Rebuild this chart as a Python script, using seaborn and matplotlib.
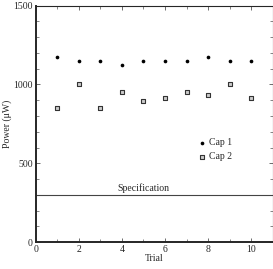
import matplotlib
matplotlib.use("Agg")
import matplotlib.pyplot as plt
import matplotlib.ticker as mticker
import pandas as pd
import seaborn as sns

# Data
trials = [1, 2, 3, 4, 5, 6, 7, 8, 9, 10]
cap1 = [1175, 1150, 1150, 1125, 1150, 1150, 1150, 1175, 1150, 1150]
cap2 = [850, 1000, 850, 955, 895, 915, 955, 935, 1000, 915]
spec_level = 300

sns.set_style("ticks")
plt.rcParams['font.family'] = ['Liberation Serif', 'DejaVu Serif']
plt.rcParams['mathtext.fontset'] = 'stix'

df = pd.DataFrame({"Trial": trials, "Cap 1": cap1, "Cap 2": cap2})

fig = plt.figure(figsize=(2.73, 2.69), dpi=100)
ax = fig.add_axes([0.131, 0.100, 0.868, 0.879])

sns.scatterplot(data=df, x="Trial", y="Cap 1", ax=ax, color="black",
                marker="o", s=7, linewidth=0, label="Cap 1")
sns.scatterplot(data=df, x="Trial", y="Cap 2", ax=ax, color="#cccccc",
                marker="s", s=8, edgecolor="#333333", linewidth=0.8,
                label="Cap 2")

# Specification line
ax.axhline(spec_level, color="#444444", lw=0.8)
ax.text(5, spec_level + 12, "Specification", ha="center", va="bottom",
        fontsize=7)

ax.set_xlim(0, 11)
ax.set_ylim(0, 1500)
ax.xaxis.set_major_locator(mticker.FixedLocator([0, 2, 4, 6, 8, 10]))
ax.xaxis.set_minor_locator(mticker.MultipleLocator(1))
ax.yaxis.set_major_locator(mticker.MultipleLocator(500))
ax.yaxis.set_minor_locator(mticker.MultipleLocator(100))
ax.tick_params(which="both", direction="in", top=True, right=True,
               labelsize=7, pad=2, color="#555555")
ax.tick_params(which="major", length=3, width=0.6)
ax.tick_params(which="minor", length=2, width=0.5)

ax.set_xlabel("Trial", fontsize=7, labelpad=0)
ax.set_ylabel("Power (μW)", fontsize=7, labelpad=1)

for side in ["left", "bottom"]:
    ax.spines[side].set_linewidth(1.4)
for side in ["top", "right"]:
    ax.spines[side].set_linewidth(0.8)

ax.legend(loc="upper left", bbox_to_anchor=(0.665, 0.455), frameon=False,
          fontsize=7, handletextpad=0.2, borderaxespad=0, labelspacing=0.5,
          handlelength=1.0)

plt.savefig("out.png", dpi=100)
